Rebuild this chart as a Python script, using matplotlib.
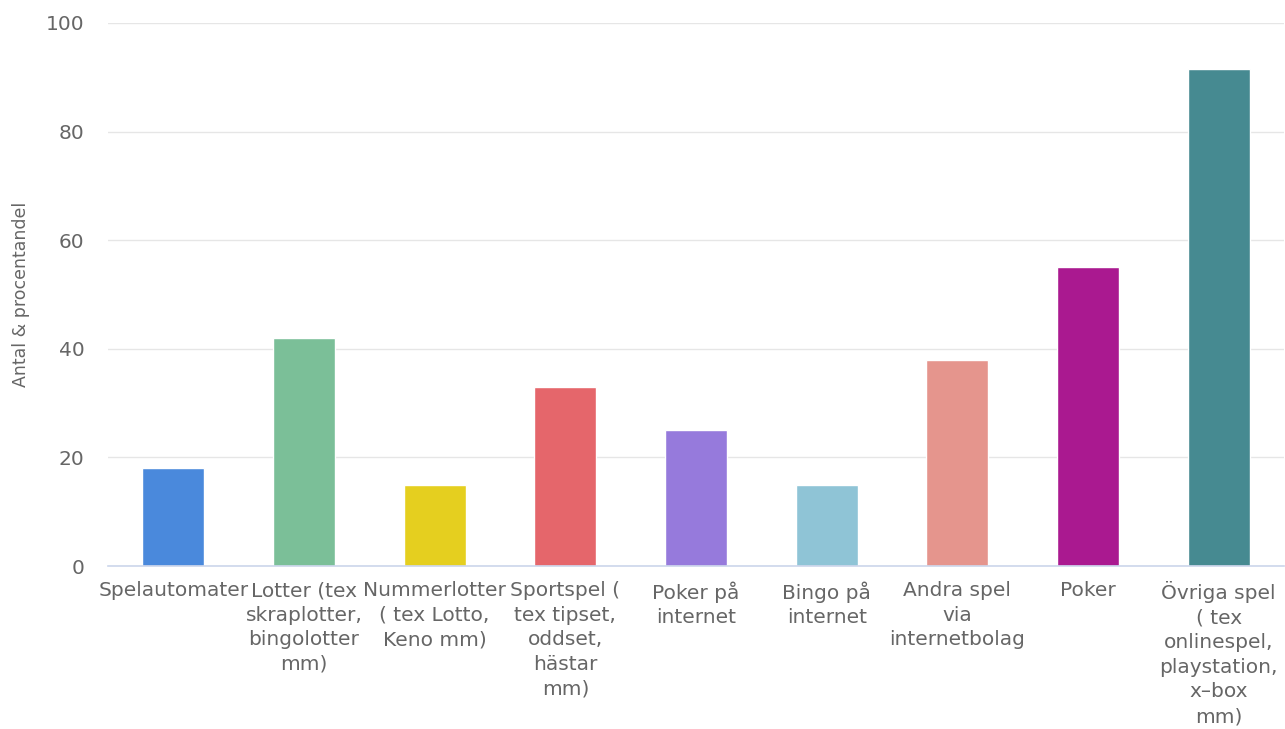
import matplotlib
matplotlib.use("Agg")
import matplotlib.pyplot as plt

categories = [
    "Spelautomater",
    "Lotter (tex\nskraplotter,\nbingolotter\nmm)",
    "Nummerlotter\n( tex Lotto,\nKeno mm)",
    "Sportspel (\ntex tipset,\noddset,\nhästar\nmm)",
    "Poker på\ninternet",
    "Bingo på\ninternet",
    "Andra spel\nvia\ninternetbolag",
    "Poker",
    "Övriga spel\n( tex\nonlinespel,\nplaystation,\nx\u2013box\nmm)",
]
values = [18, 42, 15, 33, 25, 15, 38, 55, 91.5]
colors = ["#4a89dc", "#7bbf98", "#e5cf1f", "#e5666b", "#967adc",
          "#8fc4d6", "#e5958d", "#aa1990", "#468a91"]
yticks = [0, 20, 40, 60, 80, 100]

plt.rcParams['font.family'] = ['DejaVu Sans']
fig = plt.figure(figsize=(12.85, 7.29), dpi=100)
ax = fig.add_axes([108/1285, (729-566)/729, (1284-108)/1285, (566-23)/729])

x = range(len(categories))
ax.bar(x, values, width=0.475, color=colors, edgecolor="white", linewidth=1, zorder=3)
ax.set_xlim(-0.5, len(categories) - 0.5)
ax.set_ylim(0, 100)
ax.set_yticks(yticks)
ax.set_yticklabels([str(t) for t in yticks], fontsize=14.5, color="#666666")
ax.set_xticks(list(x))
ax.set_xticklabels(categories, fontsize=14.5, color="#666666", linespacing=1.37)
ax.tick_params(axis="x", length=0, pad=11)
ax.tick_params(axis="y", length=0, pad=17)
ax.grid(axis="y", color="#e6e6e6", linewidth=1, zorder=0)
for s in ["top", "right", "left"]:
    ax.spines[s].set_visible(False)
ax.spines["bottom"].set_color("#ccd6eb")
ax.spines["bottom"].set_linewidth(1.2)
ax.spines["bottom"].set_zorder(4)
ax.set_ylabel("Antal & procentandel", fontsize=12.5, color="#666666")
ax.yaxis.set_label_coords(-0.066, 0.5)

fig.savefig("out.png", dpi=100)
